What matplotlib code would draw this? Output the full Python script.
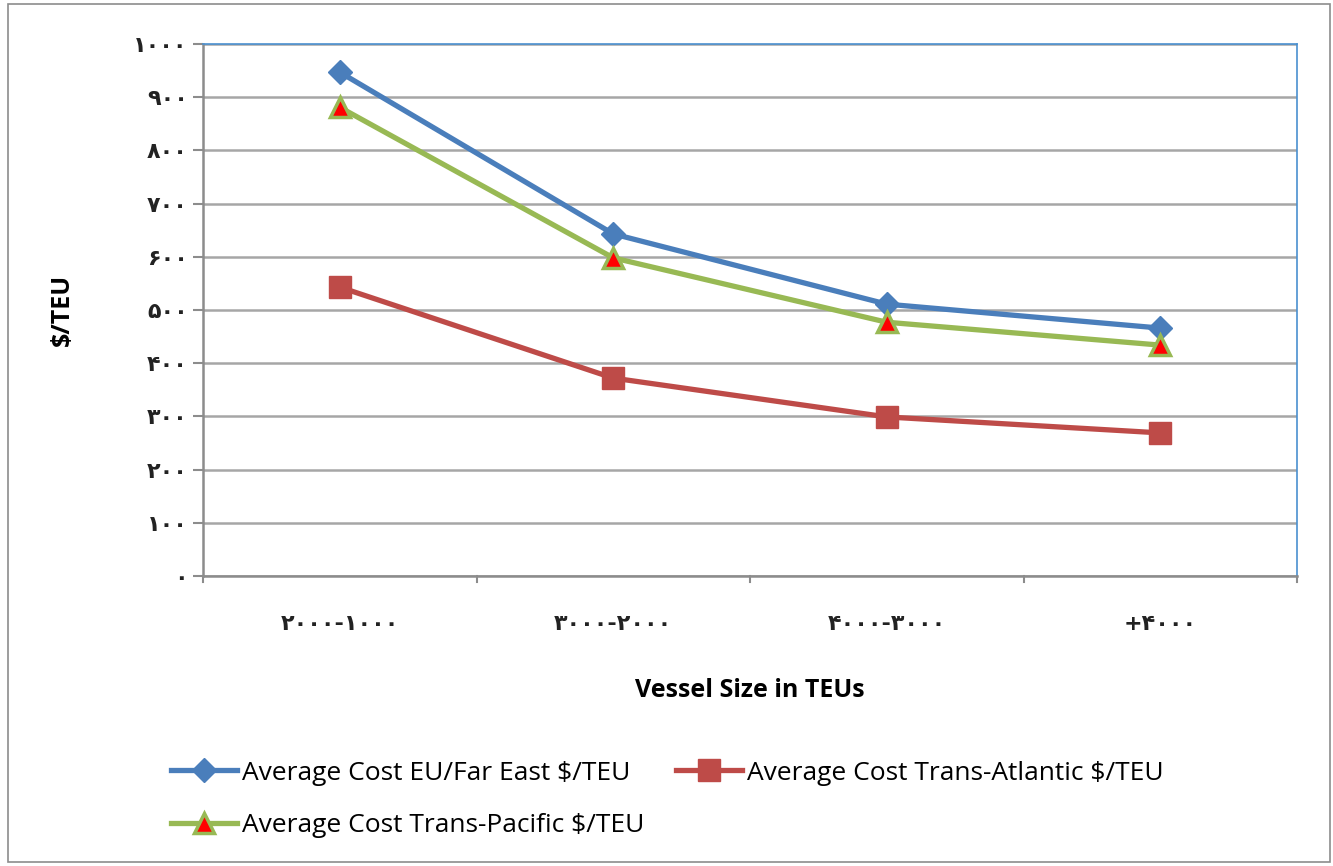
import matplotlib
matplotlib.use("Agg")
import matplotlib.pyplot as plt
from matplotlib.patches import Rectangle

categories = ["۲۰۰۰-۱۰۰۰", "۳۰۰۰-۲۰۰۰", "۴۰۰۰-۳۰۰۰", "+۴۰۰۰"]
eu_far_east = [947, 643, 511, 466]
trans_atlantic = [543, 372, 299, 269]
trans_pacific = [881, 598, 477, 434]
y_ticks = [0, 100, 200, 300, 400, 500, 600, 700, 800, 900, 1000]
y_tick_labels = ["۰", "۱۰۰", "۲۰۰", "۳۰۰", "۴۰۰", "۵۰۰", "۶۰۰", "۷۰۰", "۸۰۰", "۹۰۰", "۱۰۰۰"]

W, H = 1333, 866
fig = plt.figure(figsize=(W / 100, H / 100), dpi=100)
fig.patch.set_facecolor("white")
fig.patches.append(Rectangle((8 / W, 4 / H), 1322 / W, 858 / H, transform=fig.transFigure,
                             fill=False, edgecolor="#8c8c8c", linewidth=1.2))

ax = fig.add_axes([203 / W, 1 - 576 / H, (1297 - 203) / W, (576 - 44) / H])
x = list(range(len(categories)))

ax.set_xlim(-0.5, len(categories) - 0.5)
ax.set_ylim(0, 1000)
ax.set_yticks(y_ticks)
ax.set_yticklabels(y_tick_labels, family=["DejaVu Sans"], fontsize=16, fontweight="bold",
                   color="#222222")
ax.set_xticks(x)
ax.set_xticklabels(categories, family=["DejaVu Sans"], fontsize=16, fontweight="bold",
                   color="#222222")
ax.tick_params(axis="x", length=0, pad=27)
ax.tick_params(axis="y", length=7, width=1.5, color="#8c8c8c", direction="out", pad=4)
for b in [-0.5, 0.5, 1.5, 2.5, 3.5]:
    ax.plot([b, b], [0, -12], color="#8c8c8c", lw=1.5, clip_on=False)
ax.grid(axis="y", color="#a6a6a6", linewidth=1.8)
ax.set_axisbelow(True)
for side in ["top", "right"]:
    ax.spines[side].set_color("#4a90d0")
    ax.spines[side].set_linewidth(1.2)
for side in ["left", "bottom"]:
    ax.spines[side].set_color("#8c8c8c")
    ax.spines[side].set_linewidth(1.8)

l_eu, = ax.plot(x, eu_far_east, color="#4a7ebb", lw=3.8, marker="D", markersize=12,
                markerfacecolor="#4a7ebb", markeredgecolor="#4a7ebb",
                label="Average Cost EU/Far East $/TEU", zorder=3)
l_ta, = ax.plot(x, trans_atlantic, color="#be4b48", lw=3.8, marker="s", markersize=16,
                markerfacecolor="#be4b48", markeredgecolor="#be4b48",
                label="Average Cost Trans-Atlantic $/TEU", zorder=3)
l_tp, = ax.plot(x, trans_pacific, color="#98b954", lw=3.8, marker="^", markersize=14,
                markerfacecolor="#ff0000", markeredgecolor="#98b954", markeredgewidth=2.5,
                label="Average Cost Trans-Pacific $/TEU", zorder=4)

font = ["Open Sans", "DejaVu Sans"]
ax.set_ylabel("$/TEU", family=font, fontsize=18, fontweight="bold", labelpad=42)
ax.set_xlabel("Vessel Size in TEUs", family=font, fontsize=18, fontweight="bold", labelpad=32)

handles = [l_eu, l_tp, l_ta]
fig.legend(handles, [h.get_label() for h in handles], loc="upper left",
           bbox_to_anchor=(160 / W, 1 - 750 / H), ncol=2,
           frameon=False, prop={"family": font, "size": 19}, handlelength=2.5,
           handletextpad=0.2, columnspacing=1.2, labelspacing=1.05, borderaxespad=0)

fig.savefig("out.png", dpi=100)
